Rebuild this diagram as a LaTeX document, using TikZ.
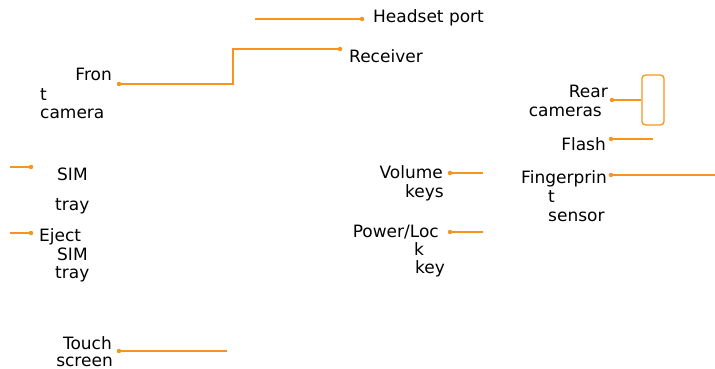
\documentclass[tikz,border=0pt]{standalone}
\usepackage{fontspec}
\setmainfont{DejaVu Sans}
\definecolor{lineor}{HTML}{F7941D}
\begin{document}
\begin{tikzpicture}[x=1pt,y=-1pt,
  lbl/.style={font=\fontsize{17}{19}\selectfont, inner sep=0pt, text=black},
  pin/.style={circle, fill=lineor, inner sep=0pt, minimum size=4.5pt},
  lead/.style={draw=lineor, line width=1.3pt}]
\useasboundingbox (0,0) rectangle (715,369);
% dots
\node[pin] (dHead) at (362,19) {};
\node[pin] (dRecv) at (340,49) {};
\node[pin] (dFront) at (119,84) {};
\node[pin] (dRear) at (612,100) {};
\node[pin] (dFlash) at (611,139) {};
\node[pin] (dVol) at (450,173) {};
\node[pin] (dFing) at (611,175) {};
\node[pin] (dPow) at (450,232) {};
\node[pin] (dSim) at (31,167) {};
\node[pin] (dEject) at (31,233) {};
\node[pin] (dTouch) at (119,351) {};
% free ends
\coordinate (eHead) at (255,19);
\coordinate (kR1) at (233,49);
\coordinate (kR2) at (233,84);
\coordinate (eFlash) at (653,139);
\coordinate (eVol) at (483,173);
\coordinate (eFing) at (715,175);
\coordinate (ePow) at (483,232);
\coordinate (eSim) at (10,167);
\coordinate (eEject) at (10,233);
\coordinate (eTouch) at (227,351);
\node[draw=lineor, line width=1.3pt, rounded corners=3.5pt, minimum width=22pt, minimum height=50pt, inner sep=0pt] (cam) at (653,100) {};
% connectors
\draw[lead] (eHead) -- (dHead);
\draw[lead] (dRecv) -- (kR1) -- (kR2) -- (dFront);
\draw[lead] (dRear) -- (cam.west);
\draw[lead] (dFlash) -- (eFlash);
\draw[lead] (dVol) -- (eVol);
\draw[lead] (dFing) -- (eFing);
\draw[lead] (dPow) -- (ePow);
\draw[lead] (eSim) -- (dSim);
\draw[lead] (eEject) -- (dEject);
\draw[lead, line width=1.8pt] (dTouch) -- (eTouch);
% labels
\node[lbl, anchor=base west] (tHead) at (373,23) {Headset port};
\node[lbl, anchor=base west] (tRecv) at (349,63) {Receiver};
\node[lbl, anchor=base east] (tFront1) at (112,81) {Fron};
\node[lbl, anchor=base west] (tFront2) at (40,100) {t};
\node[lbl, anchor=base west] (tFront3) at (40,118) {camera};
\node[lbl, anchor=base east] (tRear1) at (608,97) {Rear};
\node[lbl, anchor=base east] (tRear2) at (602,116) {cameras};
\node[lbl, anchor=base east] (tFlash) at (606,150) {Flash};
\node[lbl, anchor=base east] (tVol1) at (443,178) {Volume};
\node[lbl, anchor=base east] (tVol2) at (444,197) {keys};
\node[lbl, anchor=base east] (tFing1) at (607,183) {Fingerprin};
\node[lbl, anchor=base west] (tFing2) at (548,202) {t};
\node[lbl, anchor=base west] (tFing3) at (548,221) {sensor};
\node[lbl, anchor=base east] (tPow1) at (439,237) {Power/Loc};
\node[lbl, anchor=base west] (tPow2) at (414,255) {k};
\node[lbl, anchor=base west] (tPow3) at (415,273) {key};
\node[lbl, anchor=base west] (tSim1) at (57,180) {SIM};
\node[lbl, anchor=base west] (tSim2) at (55,210) {tray};
\node[lbl, anchor=base west] (tEj1) at (39,241) {Eject};
\node[lbl, anchor=base west] (tEj2) at (57,260) {SIM};
\node[lbl, anchor=base west] (tEj3) at (55,278) {tray};
\node[lbl, anchor=base east] (tTouch1) at (112,349) {Touch};
\node[lbl, anchor=base east] (tTouch2) at (113,366) {screen};
\end{tikzpicture}
\end{document}
